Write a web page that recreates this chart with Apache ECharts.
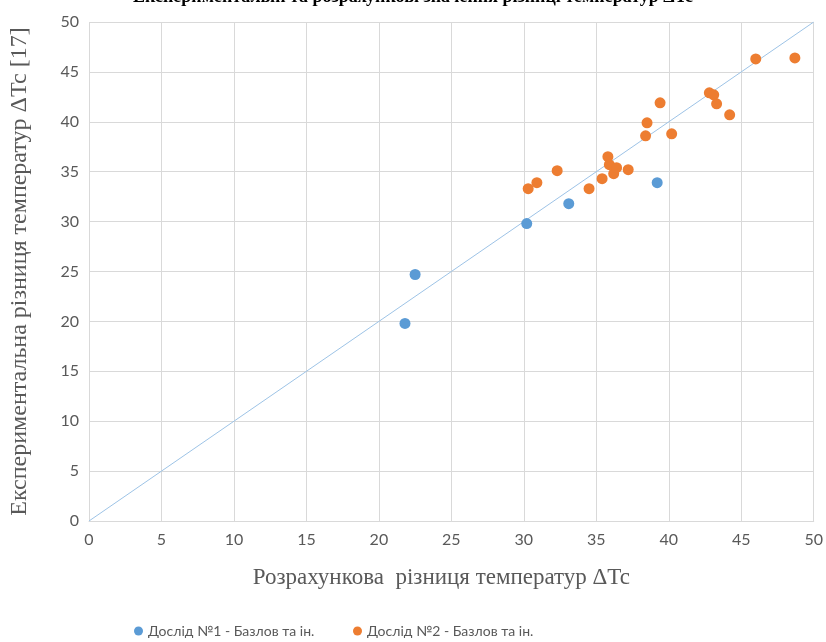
<!DOCTYPE html>
<html>
<head>
<meta charset="utf-8">
<script src="https://cdn.jsdelivr.net/npm/echarts@6/dist/echarts.min.js"></script>
<style>html,body{margin:0;padding:0;background:#fff;}#c{width:826px;height:642px;}</style>
</head>
<body>
<div id="c"></div>
<script>
const titleText = 'Експериментальні та розрахункові значення різниці температур ΔTc';
const xAxisName = 'Розрахункова  різниця температур ΔTc';
const yAxisName = 'Експериментальна різниця температур ΔTc [17]';
const series1Name = 'Дослід №1 - Базлов та ін.';
const series2Name = 'Дослід №2 - Базлов та ін.';
const xTicks = [0, 5, 10, 15, 20, 25, 30, 35, 40, 45, 50];
const yTicks = [0, 5, 10, 15, 20, 25, 30, 35, 40, 45, 50];
const s1x = [21.8, 22.5, 30.2, 33.1, 39.2];
const s1y = [19.8, 24.7, 29.8, 31.8, 33.9];
const s2x = [30.3, 30.9, 32.3, 34.5, 35.4, 35.8, 35.9, 36.2, 36.4, 37.2, 38.4, 38.5, 39.4, 40.2, 42.8, 43.1, 43.3, 44.2, 46.0, 48.7];
const s2y = [33.3, 33.9, 35.1, 33.3, 34.3, 36.5, 35.7, 34.8, 35.4, 35.2, 38.6, 39.9, 41.9, 38.8, 42.9, 42.7, 41.8, 40.7, 46.3, 46.4];
const lineX = [0, 50];
const lineY = [0, 50];

const chart = echarts.init(document.getElementById('c'));
const pair = (xs, ys) => xs.map((v, i) => [v, ys[i]]);
const labelFont = {fontFamily: 'Lato', fontSize: 16, color: '#595959'};
const legendFont = {fontFamily: 'Lato', fontSize: 14, color: '#595959'};
chart.setOption({
  animation: false,
  backgroundColor: '#fff',
  graphic: [{
    type: 'text', left: 'center', top: -12,
    style: {text: titleText, font: 'bold 18px "Liberation Serif"', fill: '#000'}
  }],
  grid: {left: 88, right: 11, top: 22, bottom: 121},
  xAxis: {
    type: 'value', min: xTicks[0], max: xTicks[xTicks.length - 1], interval: 5,
    name: xAxisName, nameLocation: 'middle', nameGap: 45,
    nameTextStyle: {fontFamily: 'Liberation Serif', fontSize: 23, color: '#595959', padding: [0, 20, 0, 0]},
    axisLine: {show: true, lineStyle: {color: '#d9d9d9'}},
    axisTick: {show: false},
    axisLabel: Object.assign({margin: 11}, labelFont),
    splitLine: {show: true, lineStyle: {color: '#d9d9d9', width: 1}}
  },
  yAxis: {
    type: 'value', min: yTicks[0], max: yTicks[yTicks.length - 1], interval: 5,
    name: yAxisName, nameLocation: 'middle', nameGap: 57,
    nameTextStyle: {fontFamily: 'Liberation Serif', fontSize: 24, color: '#595959'},
    axisLine: {show: false},
    axisTick: {show: false},
    axisLabel: Object.assign({margin: 10}, labelFont),
    splitLine: {show: true, lineStyle: {color: '#d9d9d9', width: 1}}
  },
  legend: [{
    left: 129, top: 619, itemWidth: 9, itemHeight: 9, itemGap: 0,
    icon: 'circle', textStyle: legendFont, data: [series1Name]
  }, {
    left: 348, top: 619, itemWidth: 9, itemHeight: 9, itemGap: 0,
    icon: 'circle', textStyle: legendFont, data: [series2Name]
  }],
  series: [
    {
      name: 'diag', type: 'line', data: pair(lineX, lineY), showSymbol: false, symbol: 'none',
      lineStyle: {color: '#9dc3e6', width: 1}, silent: true, z: 1
    },
    {
      name: series1Name, type: 'scatter', data: pair(s1x, s1y), symbolSize: 11,
      itemStyle: {color: '#5b9bd5', opacity: 1}, z: 3
    },
    {
      name: series2Name, type: 'scatter', data: pair(s2x, s2y), symbolSize: 11,
      itemStyle: {color: '#ed7d31', opacity: 1}, z: 3
    }
  ]
});
</script>
</body>
</html>
